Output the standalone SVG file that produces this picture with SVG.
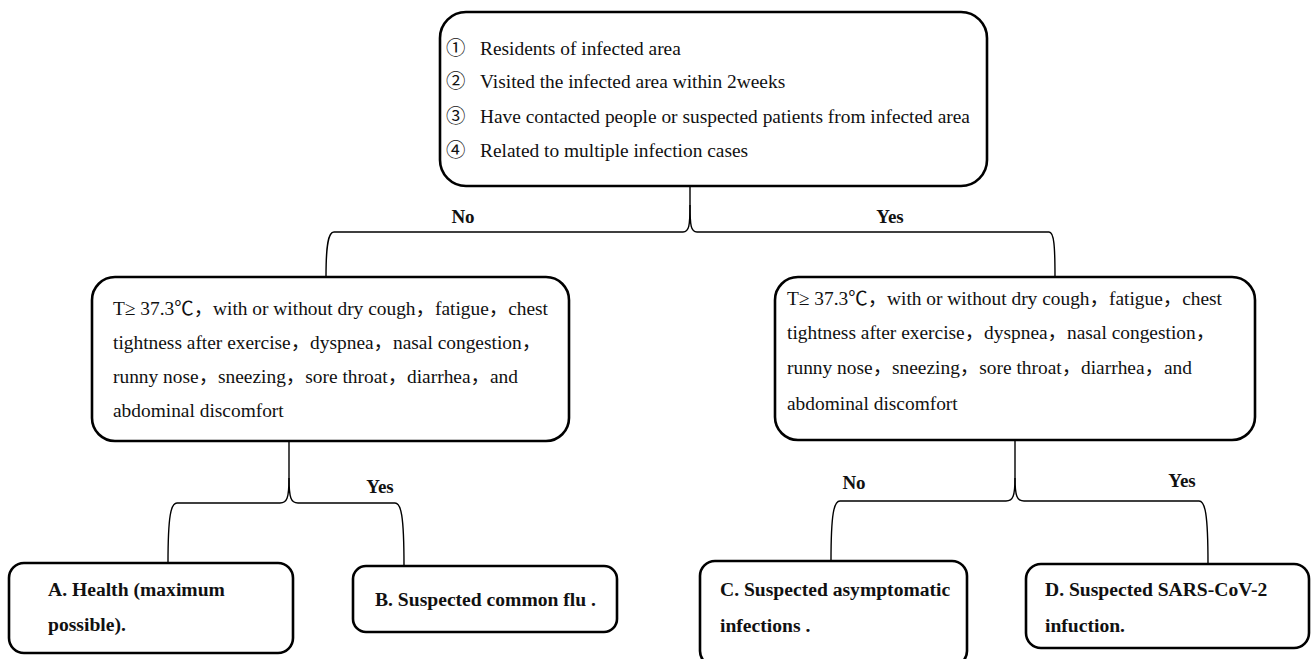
<svg xmlns="http://www.w3.org/2000/svg" width="1312" height="659" viewBox="0 0 1312 659">
<style>
.box{fill:#fff;stroke:#000;stroke-width:2.6}
.t{font-family:"Liberation Serif","Noto Sans CJK SC",serif;font-size:19.4px;fill:#111}
.b{font-family:"Liberation Serif","Noto Sans CJK SC",serif;font-size:19.6px;font-weight:bold;fill:#111}
.l{font-family:"Liberation Serif","Noto Sans CJK SC",serif;font-size:19px;font-weight:bold;fill:#111}
.c{fill:none;stroke:#000;stroke-width:1.4}
</style>
<rect width="1312" height="659" fill="#fff"/>
<g id="connectors">
<path class="c" d="M690,186 V205 C690,226 689,232 683,232 H334 C328,232 326,246 326,277"/>
<path class="c" d="M690,205 C690,226 691,232 697,232 H1049 C1054,232 1055,246 1055,277"/>
<path class="c" d="M289,442 V478 C289,498 287,503 280,503 H177 C171,503 168,515 168,563"/>
<path class="c" d="M289,478 C289,498 291,503 298,503 H395 C401,503 404,515 404,566"/>
<path class="c" d="M1015,440 V478 C1015,496 1013,501 1006,501 H840 C834,501 831,513 831,561"/>
<path class="c" d="M1015,478 C1015,496 1017,501 1024,501 H1199 C1205,501 1208,513 1208,564"/>
<text class="l" x="463" y="223" text-anchor="middle">No</text>
<text class="l" x="890" y="223" text-anchor="middle">Yes</text>
<text class="l" x="380" y="493" text-anchor="middle">Yes</text>
<text class="l" x="854" y="489" text-anchor="middle">No</text>
<text class="l" x="1182" y="487" text-anchor="middle">Yes</text>
</g>
<g id="criteria">
<rect class="box" x="440" y="12" width="547" height="174" rx="26"/>
<text class="t" x="446" y="55">①<tspan x="480">Residents of infected area</tspan></text>
<text class="t" x="446" y="88">②<tspan x="480">Visited the infected area within 2weeks</tspan></text>
<text class="t" x="446" y="123">③<tspan x="480">Have contacted people or suspected patients from infected area</tspan></text>
<text class="t" x="446" y="157">④<tspan x="480">Related to multiple infection cases</tspan></text>
</g>
<g id="symptoms-no">
<rect class="box" x="92" y="277" width="477" height="164" rx="23"/>
<text class="t" x="113" y="315">T≥ 37.3℃，with or without dry cough，fatigue，chest</text>
<text class="t" x="113" y="349">tightness after exercise，dyspnea，nasal congestion，</text>
<text class="t" x="113" y="383">runny nose，sneezing，sore throat，diarrhea，and</text>
<text class="t" x="113" y="417">abdominal discomfort</text>
</g>
<g id="symptoms-yes">
<rect class="box" x="775" y="277" width="480" height="163" rx="23"/>
<text class="t" x="787" y="305">T≥ 37.3℃，with or without dry cough，fatigue，chest</text>
<text class="t" x="787" y="339">tightness after exercise，dyspnea，nasal congestion，</text>
<text class="t" x="787" y="374">runny nose，sneezing，sore throat，diarrhea，and</text>
<text class="t" x="787" y="410">abdominal discomfort</text>
</g>
<g id="leaf-a">
<rect class="box" x="9" y="563" width="284" height="90" rx="15"/>
<text class="b" x="48" y="596">A. Health (maximum</text>
<text class="b" x="48" y="631">possible).</text>
</g>
<g id="leaf-b">
<rect class="box" x="353" y="566" width="264" height="66" rx="13"/>
<text class="b" x="375" y="606">B. Suspected common flu .</text>
</g>
<g id="leaf-c">
<rect class="box" x="700" y="561" width="267" height="105" rx="15"/>
<text class="b" x="720" y="596">C. Suspected asymptomatic</text>
<text class="b" x="720" y="632">infections .</text>
</g>
<g id="leaf-d">
<rect class="box" x="1026" y="564" width="283" height="84" rx="15"/>
<text class="b" x="1045" y="596">D. Suspected SARS-CoV-2</text>
<text class="b" x="1045" y="632">infuction.</text>
</g>
</svg>
